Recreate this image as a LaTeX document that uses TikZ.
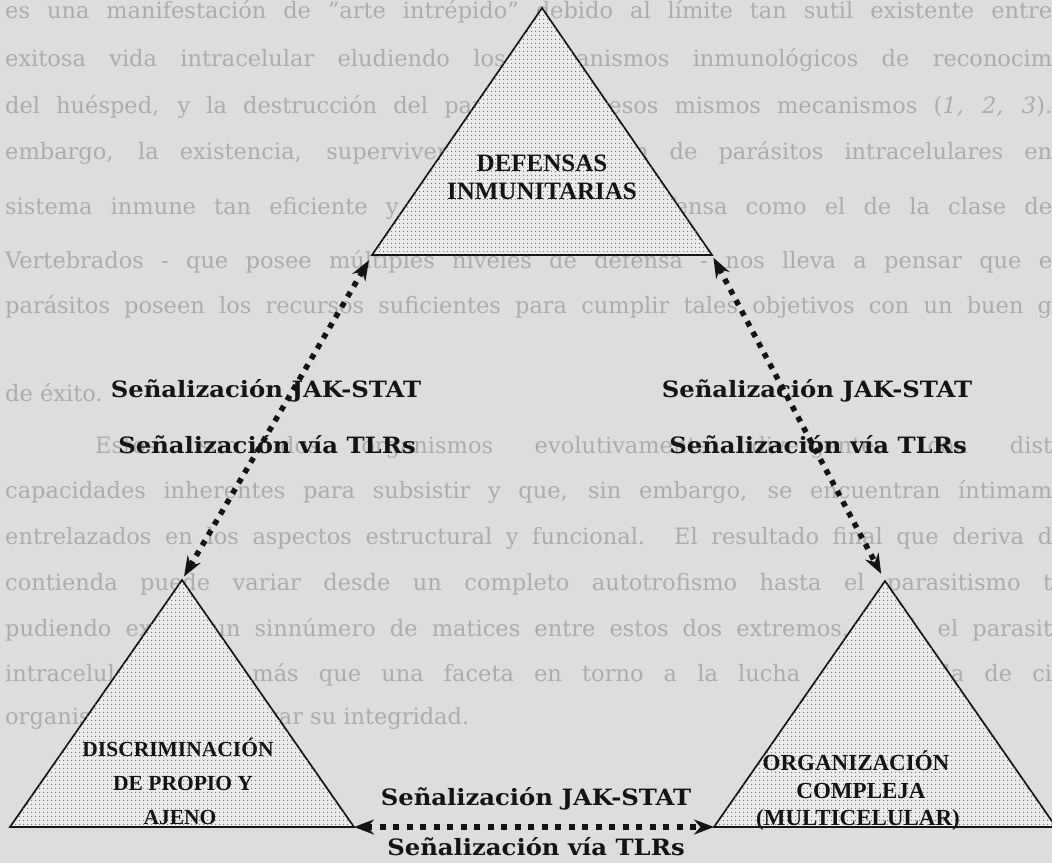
\documentclass[tikz,border=0pt]{standalone}
\usepackage{fontspec}
\setmainfont{DejaVu Serif}
\newfontfamily\labfont{DejaVu Serif}[FakeStretch=1.08]
\newfontfamily\trifont{Liberation Serif}
\usetikzlibrary{arrows.meta,patterns.meta}
\definecolor{paper}{RGB}{221,221,221}
\definecolor{ghost}{RGB}{172,172,172}
\definecolor{trifill}{RGB}{236,236,236}
\definecolor{dotcol}{RGB}{110,110,110}
\definecolor{ink}{RGB}{20,20,20}
\newcommand\bgj[5]{\node[bgtext,anchor=base west] (#1) at (#2,#3) {\hbox to #4pt{#5}};}
\tikzset{
  bgtext/.style={inner sep=0pt, text=ghost, font=\fontsize{22.5pt}{26pt}\selectfont},
  tri/.style={draw=ink, line width=1.7pt, line join=miter, fill=trifill,
    postaction={pattern={Dots[distance=4pt,radius=0.85pt]}, pattern color=dotcol}},
  tritext/.style={inner sep=0pt, text=ink, anchor=base, font=\trifont\bfseries\fontsize{23pt}{26pt}\selectfont},
  sigtext/.style={inner sep=0pt, text=ink, anchor=base, font=\labfont\bfseries\fontsize{22.5pt}{26pt}\selectfont},
  sig/.style={draw=ink, line width=5.5pt, dash pattern=on 5.5pt off 6.5pt,
    {Stealth[length=20pt,width=15pt]}-{Stealth[length=20pt,width=15pt]}},
}
\begin{document}
\begin{tikzpicture}[x=1pt,y=-1pt]
\useasboundingbox (0,0) rectangle (1052,863);
\clip (0,0) rectangle (1052,863);
\fill[paper] (0,0) rectangle (1052,863);

% faded text of the page
\bgj{bg1}{5}{18}{1047}{es una manifestación de "arte intrépido" debido al límite tan sutil existente entre}
\bgj{bg2}{5}{66}{1047}{exitosa vida intracelular eludiendo los mecanismos inmunológicos de reconocim}
\bgj{bg3}{5}{113}{1047}{del huésped, y la destrucción del parásito por esos mismos mecanismos (\textit{1, 2, 3}).}
\bgj{bg4}{5}{159}{1047}{embargo, la existencia, supervivencia y evolución de parásitos intracelulares en}
\bgj{bg5}{5}{214}{1047}{sistema inmune tan eficiente y de tan compleja defensa como el de la clase de}
\bgj{bg6}{5}{268}{1047}{Vertebrados - que posee múltiples niveles de defensa - nos lleva a pensar que e}
\bgj{bg7}{5}{313}{1047}{parásitos poseen los recursos suficientes para cumplir tales objetivos con un buen g}
\node[bgtext,anchor=base west] (bg8) at (5,401) {de éxito.};
\bgj{bg9}{95}{453}{957}{Estos son dos organismos evolutivamente divergentes con dist}
\bgj{bg10}{5}{498}{1047}{capacidades inherentes para subsistir y que, sin embargo, se encuentran íntimam}
\bgj{bg11}{5}{544}{1047}{entrelazados en los aspectos estructural y funcional. El resultado final que deriva d}
\bgj{bg12}{5}{590}{1047}{contienda puede variar desde un completo autotrofismo hasta el parasitismo t}
\bgj{bg13}{5}{636}{1047}{pudiendo existir un sinnúmero de matices entre estos dos extremos. Así, el parasit}
\bgj{bg14}{5}{681}{1047}{intracelular no es más que una faceta en torno a la lucha desesperada de ci}
\node[bgtext,anchor=base west] (bg15) at (5,724) {organismos por conservar su integridad.};

% triangle corners
\coordinate (DTa) at (542,8);   \coordinate (DTl) at (372,255); \coordinate (DTr) at (712,255);
\coordinate (Pa)  at (182,580); \coordinate (Pl)  at (10,827);  \coordinate (Pr)  at (354,827);
\coordinate (Oa)  at (885,581); \coordinate (Ol)  at (714,827); \coordinate (Or)  at (1056,827);

\path[tri] (DTa) -- (DTr) -- (DTl) -- cycle;
\path[tri] (Pa) -- (Pr) -- (Pl) -- cycle;
\path[tri] (Oa) -- (Or) -- (Ol) -- cycle;

\node[tritext, font=\trifont\bfseries\fontsize{25pt}{28pt}\selectfont] (def1) at (542,171) {DEFENSAS};
\node[tritext, font=\trifont\bfseries\fontsize{25pt}{28pt}\selectfont] (def2) at (542,199) {INMUNITARIAS};
\node[tritext, font=\trifont\bfseries\fontsize{21.5pt}{24pt}\selectfont] (dis1) at (178,756) {DISCRIMINACIÓN};
\node[tritext, font=\trifont\bfseries\fontsize{21.5pt}{24pt}\selectfont] (dis2) at (183,790) {DE PROPIO Y};
\node[tritext, font=\trifont\bfseries\fontsize{21.5pt}{24pt}\selectfont] (dis3) at (180,824) {AJENO};
\node[tritext] (org1) at (856,770) {ORGANIZACIÓN};
\node[tritext] (org2) at (861,798) {COMPLEJA};
\node[tritext] (org3) at (858,825) {(MULTICELULAR)};

% signalling labels
\node[sigtext] (lj) at (266,397) {Señalización JAK-STAT};
\node[sigtext] (lt) at (267,453) {Señalización vía TLRs};
\node[sigtext] (rj) at (817,397) {Señalización JAK-STAT};
\node[sigtext] (rt) at (818,453) {Señalización vía TLRs};
\node[sigtext] (bj) at (536,805) {Señalización JAK-STAT};
\node[sigtext] (bt) at (536,855) {Señalización vía TLRs};

% connectors
\draw[sig, shorten <=4pt, shorten >=6pt] (Pa) -- (DTl);
\draw[sig, shorten <=3pt, shorten >=8pt] (DTr) -- (Oa);
\draw[sig, line width=6pt, dash pattern=on 6pt off 7.5pt] (Pr) -- (Ol);
\end{tikzpicture}
\end{document}
